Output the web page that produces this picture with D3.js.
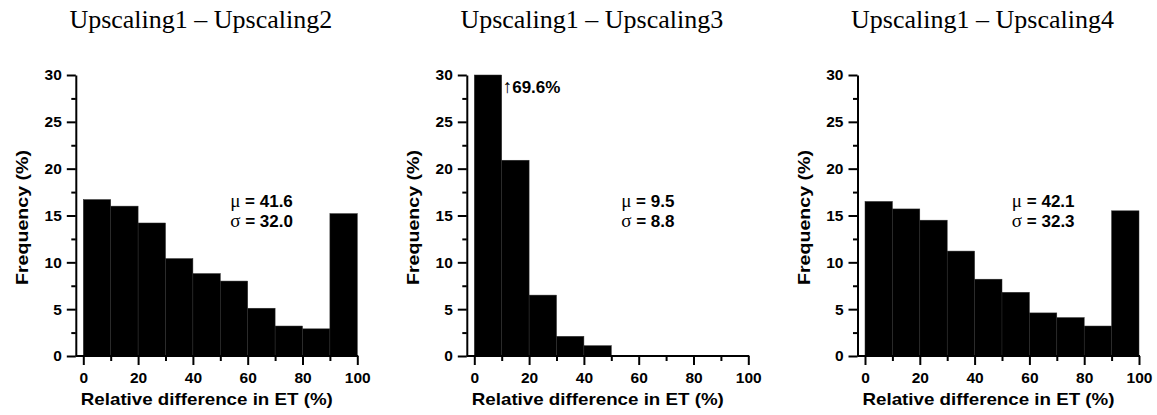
<!DOCTYPE html>
<html>
<head>
<meta charset="utf-8">
<script src="https://cdn.jsdelivr.net/npm/d3@7"></script>
<style>
  html, body { margin: 0; padding: 0; background: #fff; }
  svg { display: block; }
</style>
</head>
<body>
<svg id="chart" width="1157" height="415"></svg>
<script>
// bins (lower edge, %) and frequencies (%)
const binStarts = [0, 10, 20, 30, 40, 50, 60, 70, 80, 90];
const freqUp2 = [16.7, 16.0, 14.2, 10.4, 8.8, 8.0, 5.1, 3.2, 2.9, 15.2];
const freqUp3 = [69.6, 20.9, 6.5, 2.1, 1.1, 0, 0, 0, 0, 0];
const freqUp4 = [16.5, 15.7, 14.5, 11.2, 8.2, 6.8, 4.6, 4.1, 3.2, 15.5];

const titles = ["Upscaling1 \u2013 Upscaling2", "Upscaling1 \u2013 Upscaling3", "Upscaling1 \u2013 Upscaling4"];
const means  = ["41.6", "9.5", "42.1"];
const sigmas = ["32.0", "8.8", "32.3"];

const xTicks = [0, 20, 40, 60, 80, 100];
const xMinor = [10, 30, 50, 70, 90];
const yTicks = [0, 5, 10, 15, 20, 25, 30];
const yMinor = [2.5, 7.5, 12.5, 17.5, 22.5, 27.5];

const series = [freqUp2, freqUp3, freqUp4];
const panelX0 = [83.3, 474.3, 865];   // pixel of x = 0 in each panel

const PLOT_W = 274;
const Y_TOP = 75, Y_BOT = 356;
const AXIS_GAP = 7.5;
const BIN = 10;
const YMAX = 30;

const svg = d3.select("#chart");
const sans = "'Liberation Sans', Arial, Helvetica, sans-serif";
const serif = "'Liberation Serif', 'Times New Roman', Times, serif";

series.forEach((vals, p) => {
  const x0 = panelX0[p];
  const x = d3.scaleLinear().domain([0, 100]).range([x0, x0 + PLOT_W]);
  const y = d3.scaleLinear().domain([0, YMAX]).range([Y_BOT, Y_TOP]);
  const axisX = x0 - AXIS_GAP;
  const g = svg.append("g");

  // title
  g.append("text")
    .attr("x", x0 + 117.5)
    .attr("y", 28.3)
    .attr("text-anchor", "middle")
    .attr("font-family", serif)
    .attr("font-size", 26)
    .attr("fill", "#000")
    .text(titles[p]);

  // bars
  g.selectAll("rect.bar")
    .data(binStarts.map((b, i) => ({ b, v: vals[i] })).filter(d => d.v > 0))
    .enter().append("rect")
      .attr("class", "bar")
      .attr("x", d => x(d.b))
      .attr("width", d => x(d.b + BIN) - x(d.b))
      .attr("y", d => y(Math.min(d.v, YMAX)))
      .attr("height", d => Y_BOT - y(Math.min(d.v, YMAX)))
      .attr("fill", "#000")
      .attr("stroke", "#2c2c2c")
      .attr("stroke-width", 0.5);

  // y axis (major + minor)
  const yAx = g.append("g")
    .attr("transform", `translate(${axisX},0)`)
    .call(d3.axisLeft(y).tickValues(yTicks).tickSize(9).tickSizeOuter(0).tickPadding(5));
  yAx.select(".domain").attr("stroke-width", 2);
  yAx.selectAll(".tick line").attr("stroke-width", 2);
  yAx.selectAll(".tick text")
    .attr("font-family", sans).attr("font-weight", "bold").attr("font-size", 15.5);
  g.append("g")
    .attr("transform", `translate(${axisX},0)`)
    .call(d3.axisLeft(y).tickValues(yMinor).tickSize(4.5).tickFormat(""))
    .call(s => s.select(".domain").remove())
    .selectAll(".tick line").attr("stroke-width", 2);

  // x axis baseline runs from the y axis to 100
  g.append("line")
    .attr("x1", axisX).attr("x2", x(100) + 1)
    .attr("y1", Y_BOT).attr("y2", Y_BOT)
    .attr("stroke", "#000").attr("stroke-width", 2);
  const xAx = g.append("g")
    .attr("transform", `translate(0,${Y_BOT})`)
    .call(d3.axisBottom(x).tickValues(xTicks).tickSize(9).tickPadding(7));
  xAx.select(".domain").remove();
  xAx.selectAll(".tick line").attr("stroke-width", 2);
  xAx.selectAll(".tick text")
    .attr("font-family", sans).attr("font-weight", "bold").attr("font-size", 15.5);
  g.append("g")
    .attr("transform", `translate(0,${Y_BOT})`)
    .call(d3.axisBottom(x).tickValues(xMinor).tickSize(5).tickFormat(""))
    .call(s => s.select(".domain").remove())
    .selectAll(".tick line").attr("stroke-width", 2);

  // axis labels
  g.append("text")
    .attr("x", x0 + 123.5 - 126)
    .attr("y", 405)
    .attr("textLength", 252)
    .attr("lengthAdjust", "spacingAndGlyphs")
    .attr("font-family", sans).attr("font-weight", "bold").attr("font-size", 17)
    .text("Relative difference in ET (%)");
  g.append("text")
    .attr("transform", `translate(${axisX - 48},${217.5 + 67.5}) rotate(-90)`)
    .attr("textLength", 135)
    .attr("lengthAdjust", "spacingAndGlyphs")
    .attr("font-family", sans).attr("font-weight", "bold").attr("font-size", 17)
    .text("Frequency (%)");

  // mean / sd annotation
  const ann = g.append("text")
    .attr("font-family", sans).attr("font-weight", "bold").attr("font-size", 17);
  const l1 = ann.append("tspan").attr("x", x(53.6)).attr("y", 206.5);
  l1.append("tspan").attr("font-family", serif).attr("font-weight", "normal").attr("font-size", 19).text("\u03bc");
  l1.append("tspan").text(" = " + means[p]);
  const l2 = ann.append("tspan").attr("x", x(53.6)).attr("y", 226.7);
  l2.append("tspan").attr("font-family", serif).attr("font-weight", "normal").attr("font-size", 19).text("\u03c3");
  l2.append("tspan").text(" = " + sigmas[p]);

  // off-scale bar label
  vals.forEach((v, i) => {
    if (v > YMAX) {
      const t = g.append("text")
        .attr("x", x(binStarts[i] + BIN) + 1)
        .attr("y", 92.7)
        .attr("font-family", sans).attr("font-weight", "bold").attr("font-size", 17);
      t.append("tspan").attr("font-family", serif).attr("font-weight", "normal").attr("font-size", 19).text("\u2191");
      t.append("tspan").text(v.toFixed(1) + "%");
    }
  });
});
</script>
</body>
</html>
